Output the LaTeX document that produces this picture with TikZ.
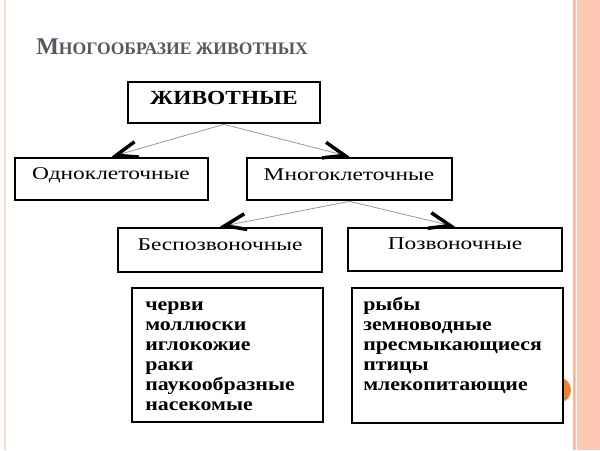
\documentclass[tikz,border=0pt]{standalone}
\usepackage{fontspec}
\setmainfont{Liberation Serif}
\newfontfamily\wideR[FakeStretch=1.3]{Liberation Serif}
\newfontfamily\wideB[FakeStretch=1.17]{Liberation Serif}
\usetikzlibrary{arrows.meta}
\definecolor{stripe}{HTML}{FCC8B4}
\definecolor{stripeD}{HTML}{F7B79E}
\definecolor{titlegray}{HTML}{555963}
\definecolor{dotorange}{HTML}{F47F2E}
\tikzset{
  box/.style={draw=black, line width=2pt, fill=white, inner sep=0pt},
  txt/.style={inner sep=0pt, font=\wideR\fontsize{13.5}{15}\selectfont},
  listtxt/.style={inner sep=0pt, align=left, anchor=north west, font=\wideB\bfseries\fontsize{14}{15}\selectfont},
  conn/.style={draw=gray!80, line width=0.6pt, -{Straight Barb[length=16pt,width=12pt,line width=2.6pt,color=black]}}
}
\begin{document}
\begin{tikzpicture}[x=0.75pt,y=-0.75pt]
\useasboundingbox (0,0) rectangle (600,450);
\fill[white] (0,0) rectangle (600,450);
% decorative stripes
\fill[stripe!70] (3.5,0) rectangle (6,450);
\fill[stripe] (573,0) rectangle (600,450);
\fill[stripeD] (573,0) rectangle (575,450);
\fill[white] (575.5,0) rectangle (577,450);
% title
\node[anchor=base west, inner sep=0pt, text=titlegray, font=\bfseries] (title) at (36,54)
  {{\fontsize{18}{20}\selectfont М}{\fontsize{13.2}{15}\selectfont НОГООБРАЗИЕ ЖИВОТНЫХ}};
% orange dot
\fill[dotorange] (558,390) circle (13);
% boxes
\node[box, minimum width=144pt, minimum height=30.75pt] (anim) at (224,102.5) {};
\node[inner sep=0pt, font=\wideB\bfseries\fontsize{15}{16}\selectfont] (animT) at (224,98) {ЖИВОТНЫЕ};
\node[box, minimum width=144.75pt, minimum height=31.5pt] (uni) at (111.5,179) {};
\node[txt] (uniT) at (111,175) {Одноклеточные};
\node[box, minimum width=153.75pt, minimum height=31.5pt] (multi) at (349.5,179) {};
\node[txt] (multiT) at (349,175) {Многоклеточные};
\node[box, minimum width=153pt, minimum height=33pt] (inv) at (220,250) {};
\node[txt] (invT) at (220,245) {Беспозвоночные};
\node[box, minimum width=160.5pt, minimum height=32.25pt] (vert) at (455,249.5) {};
\node[txt] (vertT) at (455,244) {Позвоночные};
\node[box, minimum width=143.25pt, minimum height=100.5pt] (invL) at (227.5,355) {};
\node[listtxt] (invLT) at (145,295.5) {\rule{0pt}{11pt}черви\\моллюски\\иглокожие\\раки\\паукообразные\\насекомые};
\node[box, minimum width=158.25pt, minimum height=101.25pt] (vertL) at (457.5,355.5) {};
\node[listtxt] (vertLT) at (363,295.5) {\rule{0pt}{11pt}рыбы\\земноводные\\пресмыкающиеся\\птицы\\млекопитающие};
% connectors
\draw[conn] (anim.south) -- (uni.north);
\draw[conn] (anim.south) -- (multi.north);
\draw[conn] (multi.south) -- (inv.north);
\draw[conn] (multi.south) -- (vert.north);
\end{tikzpicture}
\end{document}
